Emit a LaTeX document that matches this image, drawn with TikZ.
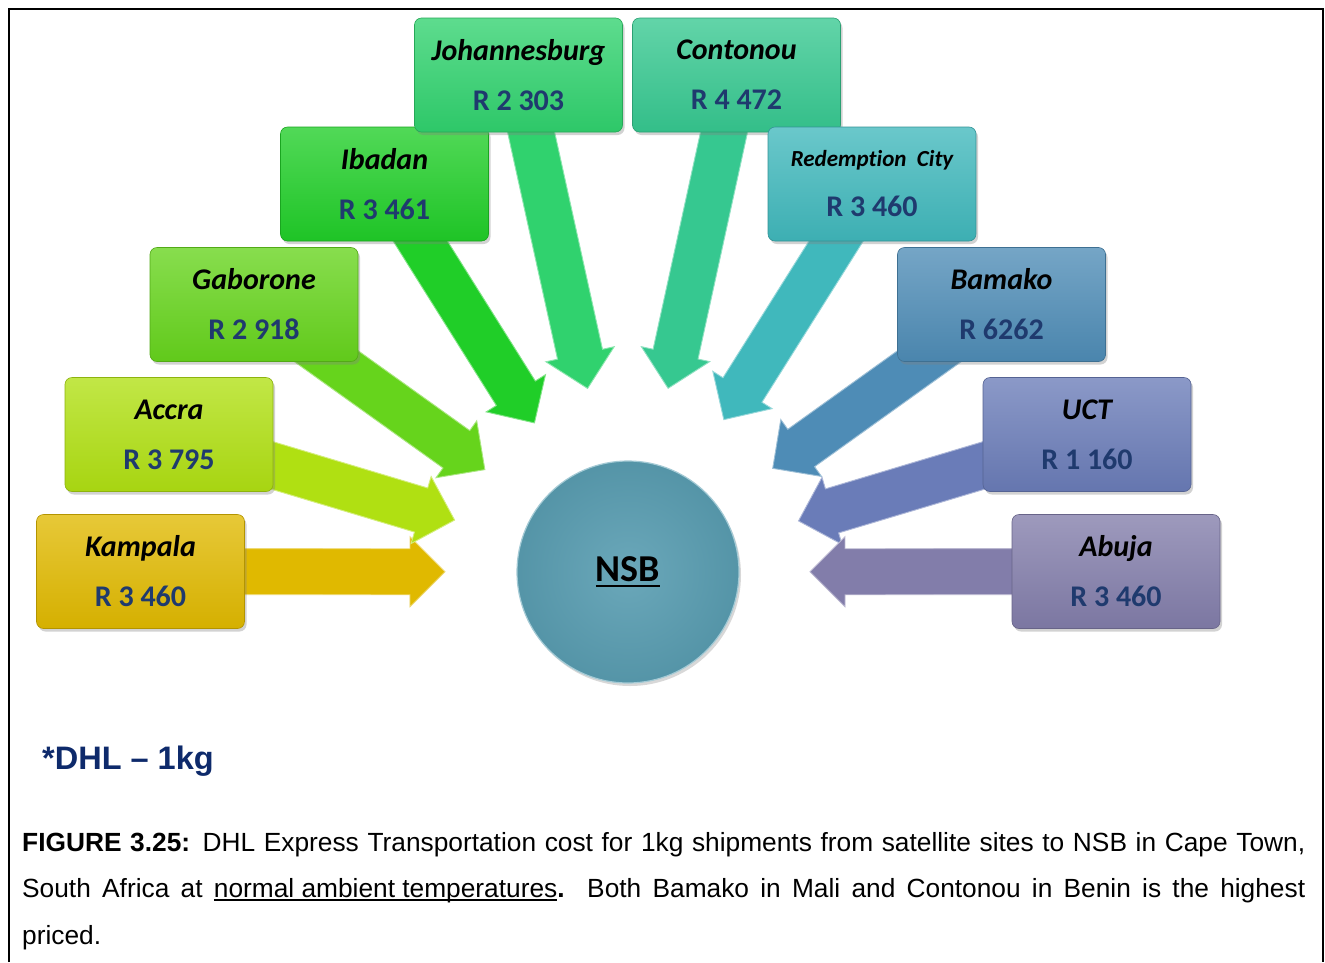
\documentclass[tikz,border=0pt]{standalone}
\usepackage{fontspec}
\setmainfont{Liberation Sans}
\newfontfamily\calfont[Ligatures={NoCommon}]{Carlito}
\newfontfamily\arialfont{Liberation Sans}
\usetikzlibrary{calc,shadows}
\definecolor{price}{HTML}{1F3A6E}
\definecolor{dhlblue}{HTML}{0E2A6B}
\definecolor{cKam}{HTML}{E0B900}
\definecolor{cAcc}{HTML}{B0E012}
\definecolor{cGab}{HTML}{66D41C}
\definecolor{cIba}{HTML}{20CE28}
\definecolor{cJoh}{HTML}{30D26E}
\definecolor{cCon}{HTML}{36C890}
\definecolor{cRed}{HTML}{40B8BC}
\definecolor{cBam}{HTML}{4E8CB6}
\definecolor{cUct}{HTML}{6A7CB8}
\definecolor{cAbu}{HTML}{827DAA}
\definecolor{cNsb}{HTML}{5A9EB2}
\pgfdeclarelayer{bg}
\pgfsetlayers{bg,main}
\newcommand{\myul}[3]{\setbox0\hbox{#3}\rlap{\rule[-#1]{\wd0}{#2}}\box0}
\newcommand{\bt}[2]{{\bfseries\itshape #1}\\{\bfseries\color{price}#2}}
\newcommand{\barrow}[3]{%
  \path (#2.center) coordinate (s-#2);
  \path ($(nsb.center)!#3!(#2.center)$) coordinate (t-#2);
  \path ($(t-#2)!35pt!(s-#2)$) coordinate (h-#2);
  \filldraw[fill=#1, draw=#1!55!white, line width=0.9pt, line join=miter]
    ($(s-#2)!23pt!90:(t-#2)$) -- ($(h-#2)!23pt!90:(t-#2)$) --
    ($(h-#2)!35pt!90:(t-#2)$) -- (t-#2) --
    ($(h-#2)!35pt!-90:(t-#2)$) -- ($(h-#2)!23pt!-90:(t-#2)$) --
    ($(s-#2)!23pt!-90:(t-#2)$) -- cycle;
}
\tikzset{
  cbox/.style={rectangle, rounded corners=7pt, minimum width=208pt,
    minimum height=114pt, inner sep=0pt, align=center,
    draw=#1!80!black, line width=0.6pt,
    top color=#1!78!white, bottom color=#1!95!black,
    drop shadow={opacity=0.35, shadow xshift=2pt, shadow yshift=-3pt},
    font=\calfont\fontsize{30}{50}\selectfont},
  captxt/.style={anchor=base west, inner sep=0pt,
    font=\arialfont\fontsize{26.3}{26.3}\selectfont},
}
\begin{document}
\begin{tikzpicture}[x=1pt,y=-1pt]
\useasboundingbox (0,0) rectangle (1325,962);
\begin{pgfonlayer}{bg}
\fill[white] (0,0) rectangle (1325,962);
\end{pgfonlayer}
\draw[line width=1.3pt] (9,962) -- (9,9) -- (1323,9) -- (1323,962);

% centre
\node[circle, minimum size=222pt, inner sep=0pt,
      draw=cNsb!55!white, line width=1.2pt,
      inner color=cNsb!90!white, outer color=cNsb!94!black,
      drop shadow={opacity=0.3, shadow xshift=2pt, shadow yshift=-3pt},
      font=\calfont\bfseries\fontsize{38}{38}\selectfont] (nsb) at (628,572)
      {\myul{6pt}{2.5pt}{NSB}};

% boxes
\node[cbox=cKam] (kam) at (140.5,571.5) {\bt{Kampala}{R 3 460}};
\node[cbox=cAcc] (acc) at (169,434.5) {\bt{Accra}{R 3 795}};
\node[cbox=cGab] (gab) at (254,304.5) {\bt{Gaborone}{R 2 918}};
\node[cbox=cIba] (iba) at (384.5,184) {\bt{Ibadan}{R 3 461}};
\node[cbox=cJoh] (joh) at (518.5,75) {\bt{Johannesburg}{R 2 303}};
\node[cbox=cCon] (con) at (736.5,75) {\bt{Contonou}{R 4 472}};
\node[cbox=cRed] (red) at (872,184) {\bt{\fontsize{23}{50}\selectfont Redemption\ \ City}{R 3 460}};
\node[cbox=cBam] (bam) at (1001.5,304.5) {\bt{Bamako}{R 6262}};
\node[cbox=cUct] (uct) at (1087,434.5) {\bt{UCT}{R 1 160}};
\node[cbox=cAbu] (abu) at (1116,571.5) {\bt{Abuja}{R 3 460}};

% arrows
\begin{pgfonlayer}{bg}
\barrow{cKam}{kam}{183pt}
\barrow{cAcc}{acc}{181pt}
\barrow{cGab}{gab}{176pt}
\barrow{cIba}{iba}{176pt}
\barrow{cJoh}{joh}{188pt}
\barrow{cCon}{con}{188pt}
\barrow{cRed}{red}{180pt}
\barrow{cBam}{bam}{178pt}
\barrow{cUct}{uct}{178pt}
\barrow{cAbu}{abu}{182pt}
\end{pgfonlayer}

% captions
\node[anchor=base west, inner sep=0pt, text=dhlblue,
      font=\arialfont\bfseries\fontsize{32.5}{32.5}\selectfont] (dhl) at (42,769) {*DHL – 1kg};
\node[captxt] (cap1) at (22,851) {\makebox[1283pt][s]{\textbf{FIGURE 3.25:} DHL Express Transportation cost for 1kg shipments from satellite sites to NSB in Cape Town,}};
\node[captxt] (cap2) at (22,897) {\makebox[1283pt][s]{South Africa at \myul{3.5pt}{1.5pt}{normal ambient temperatures}\textbf{.}\ \ Both Bamako in Mali and Contonou in Benin is the highest}};
\node[captxt] (cap3) at (22,944) {priced.};
\end{tikzpicture}
\end{document}
